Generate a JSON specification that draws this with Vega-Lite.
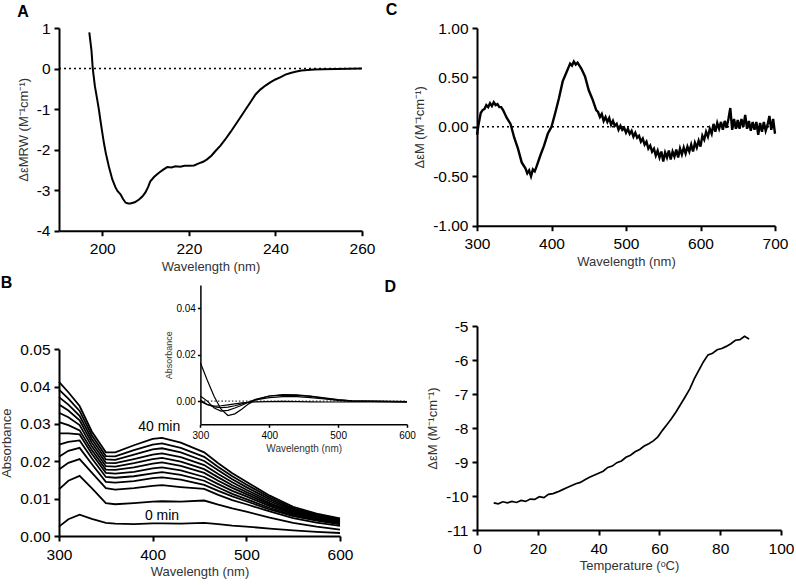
{
  "$schema": "https://vega.github.io/schema/vega-lite/v6.json",
  "background": "white",
  "padding": {"left": 0, "top": 2, "right": 0, "bottom": 0},
  "bounds": "flush",
  "columns": 2,
  "spacing": {"column": 115, "row": 95},
  "config": {
    "font": "Liberation Sans",
    "view": {"stroke": null},
    "locale": {"number": {"decimal": ".", "thousands": ",", "grouping": [3], "currency": ["$", ""], "minus": "-"}},
    "axis": {
      "grid": false,
      "domainColor": "black",
      "domainWidth": 2,
      "tickColor": "black",
      "tickWidth": 2,
      "tickSize": 5,
      "labelColor": "black",
      "labelFontSize": 15.5,
      "titleFontSize": 13,
      "titleFontWeight": "normal",
      "titleColor": "#333333",
      "labelFlush": false,
      "labelOverlap": false
    },
    "axisX": {"labelPadding": 6, "titlePadding": 3},
    "axisY": {"labelPadding": 4, "titlePadding": 6},
    "title": {"fontSize": 16, "fontWeight": "bold", "color": "black", "anchor": "start", "frame": "bounds"}
  },
  "datasets": {
    "A": [
      {"x": 197.0, "y": 0.89}, {"x": 197.5, "y": 0.45}, {"x": 197.8, "y": 0.0}, {"x": 198.3, "y": -0.44},
      {"x": 198.8, "y": -0.75}, {"x": 199.2, "y": -1.0}, {"x": 199.6, "y": -1.3}, {"x": 200.0, "y": -1.58},
      {"x": 200.4, "y": -1.85}, {"x": 200.8, "y": -2.08}, {"x": 201.5, "y": -2.41}, {"x": 202.3, "y": -2.73},
      {"x": 203.0, "y": -2.92}, {"x": 203.5, "y": -3.02}, {"x": 204.2, "y": -3.1}, {"x": 204.8, "y": -3.22},
      {"x": 205.4, "y": -3.31}, {"x": 206.0, "y": -3.33}, {"x": 206.5, "y": -3.33}, {"x": 207.5, "y": -3.3},
      {"x": 208.5, "y": -3.23}, {"x": 209.3, "y": -3.15}, {"x": 210.0, "y": -3.05}, {"x": 210.6, "y": -2.92},
      {"x": 211.1, "y": -2.78}, {"x": 212.0, "y": -2.67}, {"x": 213.1, "y": -2.57}, {"x": 214.0, "y": -2.5},
      {"x": 215.0, "y": -2.43}, {"x": 216.0, "y": -2.44}, {"x": 216.9, "y": -2.41}, {"x": 218.0, "y": -2.42},
      {"x": 219.0, "y": -2.4}, {"x": 220.0, "y": -2.4}, {"x": 221.2, "y": -2.39}, {"x": 222.3, "y": -2.34},
      {"x": 223.3, "y": -2.3}, {"x": 224.2, "y": -2.24}, {"x": 225.2, "y": -2.15}, {"x": 226.1, "y": -2.04},
      {"x": 227.3, "y": -1.9}, {"x": 228.4, "y": -1.75}, {"x": 229.6, "y": -1.57}, {"x": 230.8, "y": -1.38},
      {"x": 232.0, "y": -1.19}, {"x": 233.1, "y": -1.01}, {"x": 234.3, "y": -0.82}, {"x": 235.4, "y": -0.64},
      {"x": 236.5, "y": -0.52}, {"x": 237.7, "y": -0.42}, {"x": 238.8, "y": -0.34}, {"x": 240.0, "y": -0.27},
      {"x": 241.2, "y": -0.21}, {"x": 242.3, "y": -0.15}, {"x": 243.5, "y": -0.11}, {"x": 244.6, "y": -0.08},
      {"x": 246.0, "y": -0.05}, {"x": 247.5, "y": -0.035}, {"x": 249.0, "y": -0.025}, {"x": 251.0, "y": -0.015},
      {"x": 254.0, "y": -0.01}, {"x": 257.0, "y": -0.005}, {"x": 260.0, "y": 0.0}
    ],
    "C": [
      {"x": 300, "y": -0.08}, {"x": 302, "y": 0.02}, {"x": 305, "y": 0.14}, {"x": 307.5, "y": 0.17}, {"x": 310, "y": 0.18},
      {"x": 312.5, "y": 0.22}, {"x": 315, "y": 0.2}, {"x": 317.5, "y": 0.24}, {"x": 320, "y": 0.21}, {"x": 322.5, "y": 0.25},
      {"x": 325, "y": 0.22}, {"x": 327.5, "y": 0.23}, {"x": 330, "y": 0.2}, {"x": 332.5, "y": 0.2}, {"x": 335, "y": 0.17},
      {"x": 340, "y": 0.09}, {"x": 345, "y": 0.03}, {"x": 350, "y": -0.11}, {"x": 355, "y": -0.22}, {"x": 360, "y": -0.36},
      {"x": 365, "y": -0.42}, {"x": 367.5, "y": -0.47}, {"x": 370, "y": -0.44}, {"x": 372.5, "y": -0.5}, {"x": 375, "y": -0.43},
      {"x": 377.5, "y": -0.45}, {"x": 380, "y": -0.4}, {"x": 385, "y": -0.29}, {"x": 390, "y": -0.19}, {"x": 395, "y": -0.07},
      {"x": 400, "y": 0.0}, {"x": 405, "y": 0.14}, {"x": 410, "y": 0.29}, {"x": 415, "y": 0.46}, {"x": 420, "y": 0.55},
      {"x": 425, "y": 0.64}, {"x": 427.5, "y": 0.62}, {"x": 430, "y": 0.66}, {"x": 432.5, "y": 0.63}, {"x": 435, "y": 0.65},
      {"x": 440, "y": 0.59}, {"x": 445, "y": 0.51}, {"x": 450, "y": 0.37}, {"x": 455, "y": 0.28}, {"x": 460, "y": 0.17},
      {"x": 462.5, "y": 0.15}, {"x": 465, "y": 0.1}, {"x": 467.5, "y": 0.13}, {"x": 470, "y": 0.06}, {"x": 472.5, "y": 0.1},
      {"x": 475, "y": 0.05}, {"x": 477.5, "y": 0.09}, {"x": 480, "y": 0.02}, {"x": 482.5, "y": 0.06}, {"x": 485, "y": 0.01},
      {"x": 487.5, "y": 0.03}, {"x": 490, "y": -0.03}, {"x": 492.5, "y": 0.01}, {"x": 495, "y": -0.03}, {"x": 497.5, "y": -0.01},
      {"x": 500, "y": -0.06}, {"x": 502.5, "y": -0.02}, {"x": 505, "y": -0.07}, {"x": 507.5, "y": -0.04}, {"x": 510, "y": -0.1},
      {"x": 512.5, "y": -0.06}, {"x": 515, "y": -0.11}, {"x": 517.5, "y": -0.09}, {"x": 520, "y": -0.15}, {"x": 522.5, "y": -0.12},
      {"x": 525, "y": -0.18}, {"x": 527.5, "y": -0.15}, {"x": 530, "y": -0.22}, {"x": 532.5, "y": -0.19}, {"x": 535, "y": -0.25},
      {"x": 537.5, "y": -0.22}, {"x": 540, "y": -0.29}, {"x": 542.5, "y": -0.24}, {"x": 545, "y": -0.31}, {"x": 547.5, "y": -0.25},
      {"x": 550, "y": -0.35}, {"x": 552.5, "y": -0.26}, {"x": 555, "y": -0.31}, {"x": 557.5, "y": -0.24}, {"x": 560, "y": -0.33},
      {"x": 562.5, "y": -0.25}, {"x": 565, "y": -0.3}, {"x": 567.5, "y": -0.23}, {"x": 570, "y": -0.31}, {"x": 572.5, "y": -0.22},
      {"x": 575, "y": -0.28}, {"x": 577.5, "y": -0.21}, {"x": 580, "y": -0.27}, {"x": 582.5, "y": -0.2}, {"x": 585, "y": -0.25},
      {"x": 587.5, "y": -0.18}, {"x": 590, "y": -0.25}, {"x": 592.5, "y": -0.16}, {"x": 595, "y": -0.21}, {"x": 597.5, "y": -0.14},
      {"x": 600, "y": -0.2}, {"x": 602.5, "y": -0.09}, {"x": 605, "y": -0.13}, {"x": 607.5, "y": -0.05}, {"x": 610, "y": -0.1},
      {"x": 612.5, "y": -0.02}, {"x": 615, "y": -0.07}, {"x": 617.5, "y": 0.03}, {"x": 620, "y": -0.05}, {"x": 622.5, "y": 0.04},
      {"x": 625, "y": -0.02}, {"x": 627.5, "y": 0.05}, {"x": 630, "y": -0.03}, {"x": 632.5, "y": 0.06}, {"x": 635, "y": -0.01},
      {"x": 637.5, "y": 0.08}, {"x": 640, "y": 0.19}, {"x": 642.5, "y": -0.03}, {"x": 645, "y": 0.08}, {"x": 647.5, "y": -0.02},
      {"x": 650, "y": 0.07}, {"x": 652.5, "y": -0.02}, {"x": 655, "y": 0.08}, {"x": 657.5, "y": 0.0}, {"x": 660, "y": 0.12},
      {"x": 662.5, "y": -0.02}, {"x": 665, "y": 0.06}, {"x": 667.5, "y": -0.04}, {"x": 670, "y": 0.05}, {"x": 672.5, "y": -0.03},
      {"x": 675, "y": 0.05}, {"x": 677.5, "y": -0.08}, {"x": 680, "y": 0.04}, {"x": 682.5, "y": -0.05}, {"x": 685, "y": 0.05},
      {"x": 687.5, "y": -0.04}, {"x": 690, "y": 0.02}, {"x": 692.5, "y": 0.11}, {"x": 695, "y": -0.03}, {"x": 697.5, "y": 0.08},
      {"x": 700, "y": -0.07}
    ],
    "D": [
      {"x": 5.5, "y": -10.2}, {"x": 7, "y": -10.23}, {"x": 8.5, "y": -10.17}, {"x": 10, "y": -10.2}, {"x": 11.5, "y": -10.16},
      {"x": 13, "y": -10.19}, {"x": 14.5, "y": -10.13}, {"x": 16, "y": -10.16}, {"x": 17.5, "y": -10.09}, {"x": 19, "y": -10.1},
      {"x": 20.5, "y": -10.02}, {"x": 22, "y": -10.05}, {"x": 23.5, "y": -9.95}, {"x": 25, "y": -9.93}, {"x": 26.5, "y": -9.88},
      {"x": 28, "y": -9.82}, {"x": 29.5, "y": -9.76}, {"x": 31, "y": -9.7}, {"x": 32.5, "y": -9.64}, {"x": 34, "y": -9.6},
      {"x": 35.5, "y": -9.52}, {"x": 37, "y": -9.45}, {"x": 38.5, "y": -9.39}, {"x": 40, "y": -9.33}, {"x": 41.5, "y": -9.27},
      {"x": 43, "y": -9.16}, {"x": 44.5, "y": -9.12}, {"x": 46, "y": -9.02}, {"x": 47.5, "y": -8.97}, {"x": 49, "y": -8.86},
      {"x": 50.5, "y": -8.8}, {"x": 52, "y": -8.7}, {"x": 53.5, "y": -8.63}, {"x": 55, "y": -8.53}, {"x": 56.5, "y": -8.46},
      {"x": 58, "y": -8.38}, {"x": 59.5, "y": -8.26}, {"x": 61, "y": -8.07}, {"x": 62.5, "y": -7.9}, {"x": 64, "y": -7.72},
      {"x": 65.5, "y": -7.52}, {"x": 67, "y": -7.3}, {"x": 68.5, "y": -7.08}, {"x": 70, "y": -6.85}, {"x": 71.5, "y": -6.55},
      {"x": 73, "y": -6.3}, {"x": 74.5, "y": -6.05}, {"x": 76, "y": -5.85}, {"x": 77.5, "y": -5.8}, {"x": 79, "y": -5.7},
      {"x": 80.5, "y": -5.66}, {"x": 82, "y": -5.6}, {"x": 83.5, "y": -5.52}, {"x": 85, "y": -5.42}, {"x": 86.5, "y": -5.4},
      {"x": 88, "y": -5.3}, {"x": 89.5, "y": -5.38}
    ],
    "B": [
      {"c": 11, "x": 300, "y": 0.0413}, {"c": 11, "x": 310, "y": 0.0385}, {"c": 11, "x": 322, "y": 0.0348}, {"c": 11, "x": 335, "y": 0.028}, {"c": 11, "x": 350, "y": 0.0224}, {"c": 11, "x": 360, "y": 0.0224}, {"c": 11, "x": 380, "y": 0.0243}, {"c": 11, "x": 400, "y": 0.026}, {"c": 11, "x": 410, "y": 0.0263}, {"c": 11, "x": 430, "y": 0.025}, {"c": 11, "x": 455, "y": 0.0224}, {"c": 11, "x": 470, "y": 0.0195}, {"c": 11, "x": 485, "y": 0.0168}, {"c": 11, "x": 500, "y": 0.0145}, {"c": 11, "x": 525, "y": 0.0108}, {"c": 11, "x": 550, "y": 0.0078}, {"c": 11, "x": 575, "y": 0.006}, {"c": 11, "x": 600, "y": 0.0047},
      {"c": 10, "x": 300, "y": 0.0392}, {"c": 10, "x": 310, "y": 0.0368}, {"c": 10, "x": 322, "y": 0.0335}, {"c": 10, "x": 335, "y": 0.027}, {"c": 10, "x": 350, "y": 0.0214}, {"c": 10, "x": 360, "y": 0.0213}, {"c": 10, "x": 380, "y": 0.023}, {"c": 10, "x": 400, "y": 0.0245}, {"c": 10, "x": 410, "y": 0.0248}, {"c": 10, "x": 430, "y": 0.0236}, {"c": 10, "x": 455, "y": 0.0212}, {"c": 10, "x": 470, "y": 0.0185}, {"c": 10, "x": 485, "y": 0.016}, {"c": 10, "x": 500, "y": 0.0138}, {"c": 10, "x": 525, "y": 0.0103}, {"c": 10, "x": 550, "y": 0.0074}, {"c": 10, "x": 575, "y": 0.0057}, {"c": 10, "x": 600, "y": 0.0045},
      {"c": 9, "x": 300, "y": 0.0372}, {"c": 9, "x": 310, "y": 0.0352}, {"c": 9, "x": 322, "y": 0.0322}, {"c": 9, "x": 335, "y": 0.026}, {"c": 9, "x": 350, "y": 0.0205}, {"c": 9, "x": 360, "y": 0.0204}, {"c": 9, "x": 380, "y": 0.0218}, {"c": 9, "x": 400, "y": 0.0232}, {"c": 9, "x": 410, "y": 0.0235}, {"c": 9, "x": 430, "y": 0.0224}, {"c": 9, "x": 455, "y": 0.0201}, {"c": 9, "x": 470, "y": 0.0176}, {"c": 9, "x": 485, "y": 0.0152}, {"c": 9, "x": 500, "y": 0.0131}, {"c": 9, "x": 525, "y": 0.0098}, {"c": 9, "x": 550, "y": 0.0071}, {"c": 9, "x": 575, "y": 0.0054}, {"c": 9, "x": 600, "y": 0.0043},
      {"c": 8, "x": 300, "y": 0.0352}, {"c": 8, "x": 310, "y": 0.0336}, {"c": 8, "x": 322, "y": 0.031}, {"c": 8, "x": 335, "y": 0.025}, {"c": 8, "x": 350, "y": 0.0196}, {"c": 8, "x": 360, "y": 0.0195}, {"c": 8, "x": 380, "y": 0.0206}, {"c": 8, "x": 400, "y": 0.0218}, {"c": 8, "x": 410, "y": 0.0221}, {"c": 8, "x": 430, "y": 0.0211}, {"c": 8, "x": 455, "y": 0.019}, {"c": 8, "x": 470, "y": 0.0166}, {"c": 8, "x": 485, "y": 0.0144}, {"c": 8, "x": 500, "y": 0.0124}, {"c": 8, "x": 525, "y": 0.0093}, {"c": 8, "x": 550, "y": 0.0068}, {"c": 8, "x": 575, "y": 0.0051}, {"c": 8, "x": 600, "y": 0.0041},
      {"c": 7, "x": 300, "y": 0.033}, {"c": 7, "x": 310, "y": 0.0318}, {"c": 7, "x": 322, "y": 0.0297}, {"c": 7, "x": 335, "y": 0.024}, {"c": 7, "x": 350, "y": 0.0187}, {"c": 7, "x": 360, "y": 0.0186}, {"c": 7, "x": 380, "y": 0.0195}, {"c": 7, "x": 400, "y": 0.0206}, {"c": 7, "x": 410, "y": 0.0209}, {"c": 7, "x": 430, "y": 0.0199}, {"c": 7, "x": 455, "y": 0.0179}, {"c": 7, "x": 470, "y": 0.0157}, {"c": 7, "x": 485, "y": 0.0136}, {"c": 7, "x": 500, "y": 0.0118}, {"c": 7, "x": 525, "y": 0.0088}, {"c": 7, "x": 550, "y": 0.0065}, {"c": 7, "x": 575, "y": 0.0049}, {"c": 7, "x": 600, "y": 0.0039},
      {"c": 6, "x": 300, "y": 0.0305}, {"c": 6, "x": 310, "y": 0.0297}, {"c": 6, "x": 322, "y": 0.0283}, {"c": 6, "x": 335, "y": 0.023}, {"c": 6, "x": 350, "y": 0.0178}, {"c": 6, "x": 360, "y": 0.0177}, {"c": 6, "x": 380, "y": 0.0184}, {"c": 6, "x": 400, "y": 0.0194}, {"c": 6, "x": 410, "y": 0.0197}, {"c": 6, "x": 430, "y": 0.0188}, {"c": 6, "x": 455, "y": 0.0169}, {"c": 6, "x": 470, "y": 0.0148}, {"c": 6, "x": 485, "y": 0.0129}, {"c": 6, "x": 500, "y": 0.0112}, {"c": 6, "x": 525, "y": 0.0084}, {"c": 6, "x": 550, "y": 0.0062}, {"c": 6, "x": 575, "y": 0.0047}, {"c": 6, "x": 600, "y": 0.0037},
      {"c": 5, "x": 300, "y": 0.0275}, {"c": 5, "x": 310, "y": 0.0275}, {"c": 5, "x": 322, "y": 0.0272}, {"c": 5, "x": 335, "y": 0.022}, {"c": 5, "x": 350, "y": 0.0169}, {"c": 5, "x": 360, "y": 0.0167}, {"c": 5, "x": 380, "y": 0.0172}, {"c": 5, "x": 400, "y": 0.0181}, {"c": 5, "x": 410, "y": 0.0184}, {"c": 5, "x": 430, "y": 0.0176}, {"c": 5, "x": 455, "y": 0.0158}, {"c": 5, "x": 470, "y": 0.0139}, {"c": 5, "x": 485, "y": 0.0121}, {"c": 5, "x": 500, "y": 0.0106}, {"c": 5, "x": 525, "y": 0.008}, {"c": 5, "x": 550, "y": 0.0059}, {"c": 5, "x": 575, "y": 0.0045}, {"c": 5, "x": 600, "y": 0.0035},
      {"c": 4, "x": 300, "y": 0.0245}, {"c": 4, "x": 310, "y": 0.0252}, {"c": 4, "x": 322, "y": 0.0256}, {"c": 4, "x": 335, "y": 0.0208}, {"c": 4, "x": 350, "y": 0.0158}, {"c": 4, "x": 360, "y": 0.0156}, {"c": 4, "x": 380, "y": 0.016}, {"c": 4, "x": 400, "y": 0.0168}, {"c": 4, "x": 410, "y": 0.0171}, {"c": 4, "x": 430, "y": 0.0164}, {"c": 4, "x": 455, "y": 0.0148}, {"c": 4, "x": 470, "y": 0.013}, {"c": 4, "x": 485, "y": 0.0113}, {"c": 4, "x": 500, "y": 0.0099}, {"c": 4, "x": 525, "y": 0.0075}, {"c": 4, "x": 550, "y": 0.0056}, {"c": 4, "x": 575, "y": 0.0043}, {"c": 4, "x": 600, "y": 0.0033},
      {"c": 3, "x": 300, "y": 0.0212}, {"c": 3, "x": 310, "y": 0.0228}, {"c": 3, "x": 322, "y": 0.0236}, {"c": 3, "x": 335, "y": 0.0193}, {"c": 3, "x": 350, "y": 0.0145}, {"c": 3, "x": 360, "y": 0.0143}, {"c": 3, "x": 380, "y": 0.0147}, {"c": 3, "x": 400, "y": 0.0155}, {"c": 3, "x": 410, "y": 0.0157}, {"c": 3, "x": 430, "y": 0.0151}, {"c": 3, "x": 455, "y": 0.0137}, {"c": 3, "x": 470, "y": 0.0121}, {"c": 3, "x": 485, "y": 0.0106}, {"c": 3, "x": 500, "y": 0.0093}, {"c": 3, "x": 525, "y": 0.0071}, {"c": 3, "x": 550, "y": 0.0053}, {"c": 3, "x": 575, "y": 0.0041}, {"c": 3, "x": 600, "y": 0.0031},
      {"c": 2, "x": 300, "y": 0.0178}, {"c": 2, "x": 310, "y": 0.0196}, {"c": 2, "x": 322, "y": 0.0206}, {"c": 2, "x": 335, "y": 0.017}, {"c": 2, "x": 350, "y": 0.0128}, {"c": 2, "x": 360, "y": 0.0124}, {"c": 2, "x": 380, "y": 0.0128}, {"c": 2, "x": 400, "y": 0.0134}, {"c": 2, "x": 410, "y": 0.0136}, {"c": 2, "x": 430, "y": 0.0131}, {"c": 2, "x": 455, "y": 0.0126}, {"c": 2, "x": 470, "y": 0.011}, {"c": 2, "x": 485, "y": 0.0096}, {"c": 2, "x": 500, "y": 0.0085}, {"c": 2, "x": 525, "y": 0.0066}, {"c": 2, "x": 550, "y": 0.0048}, {"c": 2, "x": 575, "y": 0.0036}, {"c": 2, "x": 600, "y": 0.0027},
      {"c": 1, "x": 300, "y": 0.0125}, {"c": 1, "x": 310, "y": 0.0148}, {"c": 1, "x": 322, "y": 0.0161}, {"c": 1, "x": 335, "y": 0.0128}, {"c": 1, "x": 350, "y": 0.0088}, {"c": 1, "x": 360, "y": 0.0085}, {"c": 1, "x": 380, "y": 0.0088}, {"c": 1, "x": 400, "y": 0.0092}, {"c": 1, "x": 410, "y": 0.0093}, {"c": 1, "x": 430, "y": 0.0092}, {"c": 1, "x": 455, "y": 0.0095}, {"c": 1, "x": 470, "y": 0.0084}, {"c": 1, "x": 485, "y": 0.0074}, {"c": 1, "x": 500, "y": 0.0065}, {"c": 1, "x": 525, "y": 0.0049}, {"c": 1, "x": 550, "y": 0.0035}, {"c": 1, "x": 575, "y": 0.0025}, {"c": 1, "x": 600, "y": 0.0017},
      {"c": 0, "x": 300, "y": 0.0025}, {"c": 0, "x": 310, "y": 0.0045}, {"c": 0, "x": 322, "y": 0.0057}, {"c": 0, "x": 335, "y": 0.0046}, {"c": 0, "x": 350, "y": 0.0035}, {"c": 0, "x": 360, "y": 0.0033}, {"c": 0, "x": 380, "y": 0.0032}, {"c": 0, "x": 400, "y": 0.0034}, {"c": 0, "x": 410, "y": 0.0034}, {"c": 0, "x": 430, "y": 0.0033}, {"c": 0, "x": 455, "y": 0.0035}, {"c": 0, "x": 470, "y": 0.0032}, {"c": 0, "x": 485, "y": 0.0028}, {"c": 0, "x": 500, "y": 0.0025}, {"c": 0, "x": 525, "y": 0.002}, {"c": 0, "x": 550, "y": 0.0015}, {"c": 0, "x": 575, "y": 0.0011}, {"c": 0, "x": 600, "y": 0.0008}
    ],
    "Blabels": [
      {"x": 407, "y": 0.0291, "t": "40 min"},
      {"x": 410, "y": 0.0053, "t": "0 min"}
    ],
    "Inset": [
      {"c": 1, "x": 300, "y": 0.0165}, {"c": 1, "x": 310, "y": 0.009}, {"c": 1, "x": 320, "y": 0.002}, {"c": 1, "x": 330, "y": -0.0035}, {"c": 1, "x": 340, "y": -0.0062}, {"c": 1, "x": 350, "y": -0.0055}, {"c": 1, "x": 360, "y": -0.0035}, {"c": 1, "x": 370, "y": -0.0012}, {"c": 1, "x": 380, "y": 0.0005}, {"c": 1, "x": 400, "y": 0.0022}, {"c": 1, "x": 420, "y": 0.0028}, {"c": 1, "x": 440, "y": 0.0027}, {"c": 1, "x": 460, "y": 0.0022}, {"c": 1, "x": 480, "y": 0.0014}, {"c": 1, "x": 500, "y": 0.0006}, {"c": 1, "x": 520, "y": 0.0001}, {"c": 1, "x": 550, "y": 0.0}, {"c": 1, "x": 600, "y": -0.0002},
      {"c": 2, "x": 300, "y": 0.0022}, {"c": 2, "x": 310, "y": 0.0}, {"c": 2, "x": 320, "y": -0.003}, {"c": 2, "x": 330, "y": -0.0043}, {"c": 2, "x": 340, "y": -0.004}, {"c": 2, "x": 350, "y": -0.003}, {"c": 2, "x": 360, "y": -0.0018}, {"c": 2, "x": 370, "y": -0.0005}, {"c": 2, "x": 380, "y": 0.0008}, {"c": 2, "x": 400, "y": 0.0022}, {"c": 2, "x": 420, "y": 0.0026}, {"c": 2, "x": 440, "y": 0.0025}, {"c": 2, "x": 460, "y": 0.002}, {"c": 2, "x": 480, "y": 0.0012}, {"c": 2, "x": 500, "y": 0.0005}, {"c": 2, "x": 520, "y": 0.0001}, {"c": 2, "x": 550, "y": -0.0001}, {"c": 2, "x": 600, "y": -0.0003},
      {"c": 3, "x": 300, "y": 0.0005}, {"c": 3, "x": 310, "y": -0.0015}, {"c": 3, "x": 320, "y": -0.0025}, {"c": 3, "x": 330, "y": -0.0028}, {"c": 3, "x": 340, "y": -0.0026}, {"c": 3, "x": 350, "y": -0.002}, {"c": 3, "x": 360, "y": -0.0012}, {"c": 3, "x": 370, "y": -0.0004}, {"c": 3, "x": 380, "y": 0.0005}, {"c": 3, "x": 400, "y": 0.0015}, {"c": 3, "x": 420, "y": 0.0019}, {"c": 3, "x": 440, "y": 0.0019}, {"c": 3, "x": 460, "y": 0.0015}, {"c": 3, "x": 480, "y": 0.0009}, {"c": 3, "x": 500, "y": 0.0003}, {"c": 3, "x": 520, "y": 0.0}, {"c": 3, "x": 550, "y": -0.0001}, {"c": 3, "x": 600, "y": -0.0002},
      {"c": 4, "x": 300, "y": -0.0002}, {"c": 4, "x": 310, "y": -0.0015}, {"c": 4, "x": 320, "y": -0.0022}, {"c": 4, "x": 330, "y": -0.002}, {"c": 4, "x": 340, "y": -0.0016}, {"c": 4, "x": 350, "y": -0.0012}, {"c": 4, "x": 360, "y": -0.0008}, {"c": 4, "x": 370, "y": -0.0005}, {"c": 4, "x": 380, "y": -0.0003}, {"c": 4, "x": 400, "y": -0.0002}, {"c": 4, "x": 420, "y": -0.0001}, {"c": 4, "x": 440, "y": -0.0002}, {"c": 4, "x": 460, "y": -0.0003}, {"c": 4, "x": 480, "y": -0.0004}, {"c": 4, "x": 500, "y": -0.0004}, {"c": 4, "x": 520, "y": -0.0003}, {"c": 4, "x": 550, "y": -0.0003}, {"c": 4, "x": 600, "y": -0.0004}
    ],
    "one": [{}]
  },
  "concat": [
    {
      "width": 303,
      "height": 202.7,
      "title": {"text": "A", "offset": 1},
      "layer": [
        {
          "data": {"name": "one"},
          "mark": {"type": "rule", "color": "black", "strokeWidth": 1.5, "strokeDash": [2, 3]},
          "encoding": {"y": {"datum": 0, "type": "quantitative"}, "x": {"datum": 190, "type": "quantitative"}, "x2": {"datum": 260}}
        },
        {
          "data": {"name": "A"},
          "mark": {"type": "line", "color": "black", "strokeWidth": 2},
          "encoding": {
            "x": {"field": "x", "type": "quantitative", "scale": {"domain": [190, 260], "nice": false, "zero": false},
              "axis": {"values": [200, 220, 240, 260], "title": "Wavelength (nm)"}},
            "y": {"field": "y", "type": "quantitative", "scale": {"domain": [-4, 1], "nice": false, "zero": false},
              "axis": {"values": [-4, -3, -2, -1, 0, 1], "title": "ΔεMRW (M⁻¹cm⁻¹)"}}
          }
        }
      ]
    },
    {
      "width": 298,
      "height": 197.7,
      "title": {"text": "C", "offset": 3, "dx": -28},
      "layer": [
        {
          "data": {"name": "one"},
          "mark": {"type": "rule", "color": "black", "strokeWidth": 1.5, "strokeDash": [2, 3]},
          "encoding": {"y": {"datum": 0, "type": "quantitative"}, "x": {"datum": 300, "type": "quantitative"}, "x2": {"datum": 700}}
        },
        {
          "data": {"name": "C"},
          "mark": {"type": "line", "color": "black", "strokeWidth": 2.4},
          "encoding": {
            "x": {"field": "x", "type": "quantitative", "scale": {"domain": [300, 700], "nice": false, "zero": false},
              "axis": {"values": [300, 400, 500, 600, 700], "title": "Wavelength (nm)"}},
            "y": {"field": "y", "type": "quantitative", "scale": {"domain": [-1, 1], "nice": false},
              "axis": {"values": [-1, -0.5, 0, 0.5, 1], "format": ".2f", "title": "ΔεM (M⁻¹cm⁻¹)"}}
          }
        }
      ]
    },
    {
      "width": 281,
      "height": 210,
      "title": {"text": "B", "offset": 12},
      "layer": [
        {
          "data": {"name": "B"},
          "mark": {"type": "line", "color": "black", "strokeWidth": 1.8},
          "encoding": {
            "x": {"field": "x", "type": "quantitative", "scale": {"domain": [300, 600], "nice": false, "zero": false},
              "axis": {"values": [300, 400, 500, 600], "title": "Wavelength (nm)"}},
            "y": {"field": "y", "type": "quantitative", "scale": {"domain": [0, 0.05], "range": [210, 23.3], "nice": false},
              "axis": {"values": [0, 0.01, 0.02, 0.03, 0.04, 0.05], "format": ".2f", "title": "Absorbance"}},
            "detail": {"field": "c", "type": "nominal"}
          }
        },
        {
          "data": {"name": "Blabels"},
          "mark": {"type": "text", "fontSize": 14, "color": "black", "baseline": "middle"},
          "encoding": {
            "x": {"field": "x", "type": "quantitative", "scale": {"domain": [300, 600], "nice": false, "zero": false}, "axis": null},
            "y": {"field": "y", "type": "quantitative", "scale": {"domain": [0, 0.05], "range": [210, 23.3], "nice": false}, "axis": null},
            "text": {"field": "t"}
          }
        },
        {
          "data": {"name": "one"},
          "mark": {"type": "rule", "color": "black", "strokeWidth": 1, "strokeDash": [1.5, 2]},
          "encoding": {
            "y": {"datum": 0, "type": "quantitative", "scale": {"domain": [-0.01, 0.05], "range": [98.3, -41], "nice": false, "zero": false}, "axis": null},
            "x": {"datum": 300, "type": "quantitative", "scale": {"domain": [300, 600], "range": [141.4, 348], "nice": false, "zero": false}, "axis": null},
            "x2": {"datum": 600}
          }
        },
        {
          "data": {"name": "Inset"},
          "mark": {"type": "line", "color": "black", "strokeWidth": 1.2},
          "encoding": {
            "x": {"field": "x", "type": "quantitative",
              "scale": {"domain": [300, 600], "range": [141.4, 348], "nice": false, "zero": false},
              "axis": {"orient": "bottom", "offset": -111.7, "values": [300, 400, 500, 600], "title": "Wavelength (nm)",
                "labelFontSize": 10, "titleFontSize": 10, "domainWidth": 1.5, "tickWidth": 1.5, "tickSize": 3, "labelPadding": 3, "titlePadding": 3}},
            "y": {"field": "y", "type": "quantitative",
              "scale": {"domain": [-0.01, 0.05], "range": [98.3, -41], "nice": false, "zero": false},
              "axis": {"orient": "left", "offset": -141.4, "values": [0, 0.02, 0.04], "format": ".2f", "title": "Absorbance",
                "labelFontSize": 10, "titleFontSize": 9, "domainWidth": 1.5, "tickWidth": 1.5, "tickSize": 3, "labelPadding": 2, "titlePadding": 2}},
            "detail": {"field": "c", "type": "nominal"}
          }
        }
      ],
      "resolve": {"scale": {"x": "independent", "y": "independent"}, "axis": {"x": "independent", "y": "independent"}}
    },
    {
      "width": 304,
      "height": 204,
      "title": {"text": "D", "offset": 24, "dx": -42},
      "data": {"name": "D"},
      "mark": {"type": "line", "color": "black", "strokeWidth": 1.7},
      "encoding": {
        "x": {"field": "x", "type": "quantitative", "scale": {"domain": [0, 100], "nice": false},
          "axis": {"values": [0, 20, 40, 60, 80, 100], "title": "Temperature (ᵒC)"}},
        "y": {"field": "y", "type": "quantitative", "scale": {"domain": [-11, -5], "nice": false, "zero": false},
          "axis": {"values": [-11, -10, -9, -8, -7, -6, -5], "title": "ΔεM (M⁻¹cm⁻¹)"}}
      }
    }
  ]
}
